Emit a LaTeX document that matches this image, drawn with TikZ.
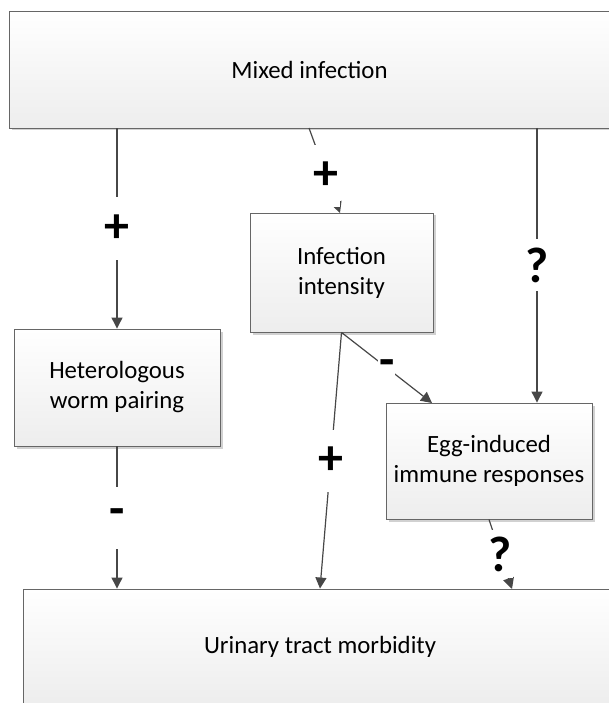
\documentclass[tikz,border=0pt]{standalone}
\usepackage{fontspec}
\setmainfont{Carlito}
\usetikzlibrary{arrows.meta,shadows}

\begin{document}
\begin{tikzpicture}[x=1pt,y=-1pt,
  box/.style={draw=black!60, line width=0.9pt, top color=white, bottom color=black!7,
    align=center, inner sep=0pt, font=\fontsize{24.8}{30}\selectfont,
    drop shadow={shadow xshift=2.5pt, shadow yshift=-2.5pt, fill=black!18, opacity=1}},
  link/.style={draw=black!72, line width=1.2pt, -{Triangle[length=11pt,width=11pt]}},
  sign/.style={fill=white, inner xsep=1pt, inner ysep=0pt, minimum height=62pt,
    font=\bfseries\fontsize{50}{50}\selectfont}]
\useasboundingbox (0,0) rectangle (608,703);

\node[box, minimum width=601pt, minimum height=117pt] (mixed) at (309.5,69.5) {Mixed infection};
\node[box, minimum width=206pt, minimum height=117pt] (het) at (117,387.5) {Heterologous\\worm pairing};
\node[box, minimum width=183pt, minimum height=119pt] (inf) at (341.5,272.5) {Infection\\intensity};
\node[box, minimum width=206pt, minimum height=116pt] (egg) at (489,461) {Egg-induced\\immune responses};
\node[box, minimum width=594pt, minimum height=116pt] (urin) at (320,647) {Urinary tract morbidity};

\coordinate (m2) at (309,128);
\coordinate (m3) at (537,128);
\coordinate (i2) at (340,213);
\coordinate (e1) at (432,403);
\coordinate (u3) at (512,589);

\draw[link] (mixed.south -| het.north) -- node[sign] {+} (het.north);
\draw[link] (m2) -- node[sign, pos=0.56] {+} (i2);
\draw[link] (m3) -- node[sign, minimum height=52pt] {?} (m3 |- egg.north);
\draw[link] (inf.south) -- node[sign] {-} (e1);
\draw[link] (inf.south) -- node[sign] {+} (urin.north);
\draw[link] (het.south) -- node[sign] {-} (het.south |- urin.north);
\draw[link] (egg.south) -- node[sign, minimum height=48pt] {?} (u3);
\end{tikzpicture}
\end{document}
